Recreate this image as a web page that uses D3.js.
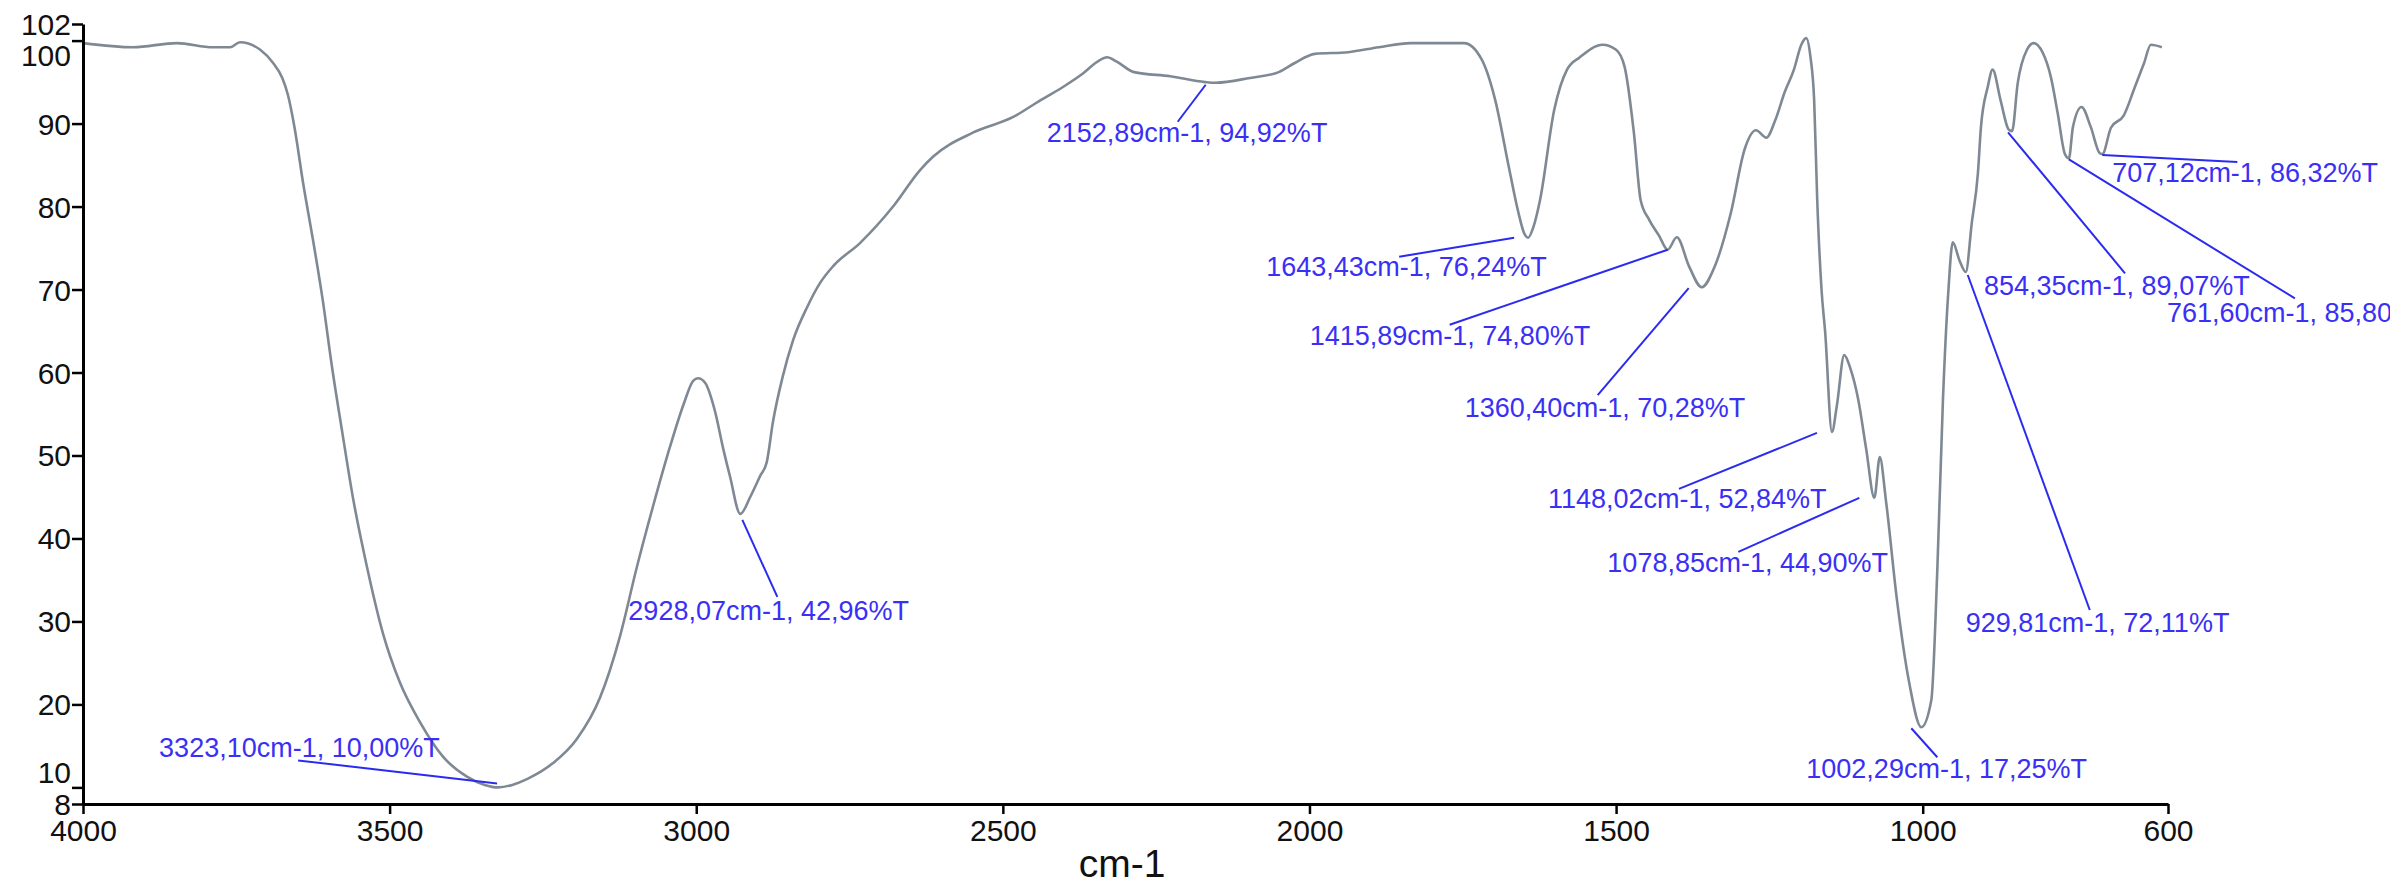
<!DOCTYPE html>
<html>
<head>
<meta charset="utf-8">
<script src="https://cdn.jsdelivr.net/npm/d3@7"></script>
<style>
  html, body { margin: 0; padding: 0; background: #fff; }
  svg { display: block; font-family: "Liberation Sans", Arial, sans-serif; }
</style>
</head>
<body>
<svg id="chart" width="2390" height="887"></svg>
<script>

// Spectrum, wavenumber (cm-1) against transmittance (%T).
const wavenumbers = [
    4000, 3918, 3847, 3788, 3760, 3744, 3711, 3690, 3675, 3666, 3655, 3641, 3625, 3609, 3594,
    3577, 3560, 3537, 3511, 3483, 3450, 3413, 3374, 3345, 3323.10, 3300, 3276, 3234, 3195, 3157,
    3124, 3097, 3070, 3043, 3020, 3005, 2997, 2985, 2970, 2955, 2945, 2928.07, 2912, 2896, 2885,
    2875, 2859, 2842, 2819, 2798, 2777, 2733, 2679, 2635, 2614, 2549, 2483, 2439, 2400, 2370,
    2345, 2330, 2315, 2286, 2227, 2170, 2152.89, 2097, 2050, 2024, 1991, 1937, 1887, 1835, 1748,
    1719, 1697, 1675, 1660, 1650, 1643.43, 1635, 1624, 1601, 1580, 1559, 1522, 1500, 1486, 1471,
    1460, 1446, 1430, 1415.89, 1401, 1381, 1360.40, 1339, 1313, 1290, 1272, 1255, 1240, 1225, 1210,
    1198, 1190, 1183, 1177, 1172, 1165, 1159, 1148.02, 1140, 1128, 1118, 1105, 1092, 1078.85, 1070,
    1060, 1042, 1022, 1002.29, 986, 976, 967, 958, 951, 940, 929.81, 920, 910, 905, 894,
    886, 873, 860, 854.35, 845, 830, 819, 804, 791, 780, 768, 761.60, 755, 741, 726,
    711, 707.12, 693, 672, 654, 639, 628, 610
];
const transmittance = [
    99.7, 99.2, 99.7, 99.2, 99.2, 99.8, 98.9, 97.3, 95.5, 93.5, 89.5, 82.8, 76.0, 68.7, 60.7,
    52.7, 45, 36.6, 28.6, 22.6, 17.8, 13.7, 11.3, 10.3, 10.00, 10.3, 11.0, 12.9, 15.8, 20.8,
    28.3, 36.5, 44, 51, 56.3, 59, 59.3, 58.7, 55.5, 50.5, 47.5, 42.96, 45, 47.5, 49.2,
    54, 59.5, 63.9, 67.9, 70.8, 72.8, 75.6, 80, 84.4, 86, 88.9, 90.8, 92.8, 94.5, 96,
    97.5, 98, 97.5, 96.2, 95.7, 95, 94.92, 95.5, 96.2, 97.3, 98.4, 98.6, 99.2, 99.7, 99.7,
    97.7, 92.8, 84.8, 79.5, 76.8, 76.24, 77.5, 80.8, 91.6, 96.5, 98, 99.5, 98.9, 96.8, 88.9,
    80.8, 78.4, 76.5, 74.80, 76.3, 72.8, 70.28, 72.8, 79.2, 87, 89.2, 88.3, 90.5, 93.8, 96.5,
    99.5, 100.3, 98, 92.8, 80.8, 70, 64.8, 52.84, 56, 62.1, 60.5, 56.7, 50.7, 44.90, 49.8,
    44.6, 32.6, 22.6, 17.25, 20.5, 36.6, 56.7, 70, 75.7, 73.5, 72.11, 78, 84, 89.6, 94.4,
    96.5, 92.8, 89.3, 89.07, 94.9, 98.9, 99.7, 98.5, 95.6, 91.3, 86.3, 85.8, 89.6, 92, 89.6,
    86.4, 86.32, 89.5, 91, 94.4, 97.3, 99.5, 99.2
];

// Picked peaks.
const peakWavenumbers = [3323.10, 2928.07, 2152.89, 1643.43, 1415.89, 1360.40, 1148.02, 1078.85, 1002.29, 929.81, 854.35, 761.60, 707.12];
const peakTransmittance = [10.00, 42.96, 94.92, 76.24, 74.80, 70.28, 52.84, 44.90, 17.25, 72.11, 89.07, 85.80, 86.32];

const xTicks = [4000, 3500, 3000, 2500, 2000, 1500, 1000, 600];
const yTicks = [8, 10, 20, 30, 40, 50, 60, 70, 80, 90, 100, 102];
const xTitle = 'cm-1';

/**
 * Where each peak label sits, in pixels from its peak: leader start, leader end, text origin.
 * @constant labelLayout
 * @type {Array}
 */
const labelLayout = [
    { line: [-1, -4, -200, -27], text: [-339, -30] },
    { line: [2, 6, 37, 83], text: [-112, 106] },
    { line: [-10, 2, -38, 39], text: [-169, 59] },
    { line: [-14, 0, -129, 19], text: [-262, 38] },
    { line: [0, 0, -218, 75], text: [-358, 95] },
    { line: [-13, 1, -104, 108], text: [-237, 130] },
    { line: [-15, 1, -153, 57], text: [-284, 76] },
    { line: [-15, 0, -136, 54], text: [-267, 74] },
    { line: [-10, 1, 16, 30], text: [-115, 51] },
    { line: [2, 3, 124, 338], text: [0, 360] },
    { line: [-4, 1, 113, 142], text: [-28, 164] },
    { line: [0, 1, 226, 140], text: [98, 164] },
    { line: [0, 1, 135, 8], text: [10, 28] }
];

// 100 and 10 are pushed away from their close neighbours 102 and 8.
const yLabelNudge = { 100: 14, 10: -15 };

const svg = d3.select('#chart');

const x = d3.scaleLinear().domain([4000, 600]).range([83, 2168]);
const y = d3.scaleLinear().domain([8, 102]).range([804, 24]);

const comma = v => v.toFixed(2).replace('.', ',');

// The spectrum itself.
const points = wavenumbers.map((w, i) => [w, transmittance[i]]);
const line = d3.line().curve(d3.curveMonotoneX).x(d => x(d[0])).y(d => y(d[1]));

svg.append('path')
    .attr('d', line(points))
    .attr('fill', 'none')
    .attr('stroke', '#7f8994')
    .attr('stroke-width', 2.6)
    .attr('stroke-linejoin', 'round');

// Axes.
const yAxis = svg.append('g')
    .attr('transform', `translate(${x(4000)},0)`)
    .call(d3.axisLeft(y).tickValues(yTicks).tickSize(11).tickSizeOuter(0).tickPadding(1).tickFormat(d3.format('d')));

yAxis.selectAll('text')
    .attr('transform', d => `translate(0,${yLabelNudge[d] || 0})`)
    .attr('dy', '0.35em');

const xAxis = svg.append('g')
    .attr('transform', `translate(0,${y(8)})`)
    .call(d3.axisBottom(x).tickValues(xTicks).tickSize(10).tickSizeOuter(0).tickPadding(6).tickFormat(d3.format('d')));

[yAxis, xAxis].forEach(axis => {
    axis.select('.domain').attr('stroke', '#000').attr('stroke-width', 3);
    axis.selectAll('.tick line').attr('stroke', '#000').attr('stroke-width', 2.5);
    axis.selectAll('text').attr('fill', '#111').style('font-size', '30px').style('font-family', '"Liberation Sans", Arial, sans-serif');
});

svg.append('text')
    .attr('x', 1122)
    .attr('y', 877)
    .attr('text-anchor', 'middle')
    .attr('fill', '#111')
    .style('font-size', '39px')
    .text(xTitle);

// Peak labels with their leader lines.
const peaks = svg.append('g');

peakWavenumbers.forEach((w, i) => {

    const px = x(w);
    const py = y(peakTransmittance[i]);
    const { line: [x0, y0, x1, y1], text: [tx, ty] } = labelLayout[i];

    peaks.append('line')
        .attr('x1', px + x0).attr('y1', py + y0)
        .attr('x2', px + x1).attr('y2', py + y1)
        .attr('stroke', '#2b2bf0')
        .attr('stroke-width', 2);

    peaks.append('text')
        .attr('x', px + tx)
        .attr('y', py + ty)
        .attr('fill', '#3a30f5')
        .style('font-size', '27px')
        .text(`${comma(w)}cm-1, ${comma(peakTransmittance[i])}%T`);

});

</script>
</body>
</html>
